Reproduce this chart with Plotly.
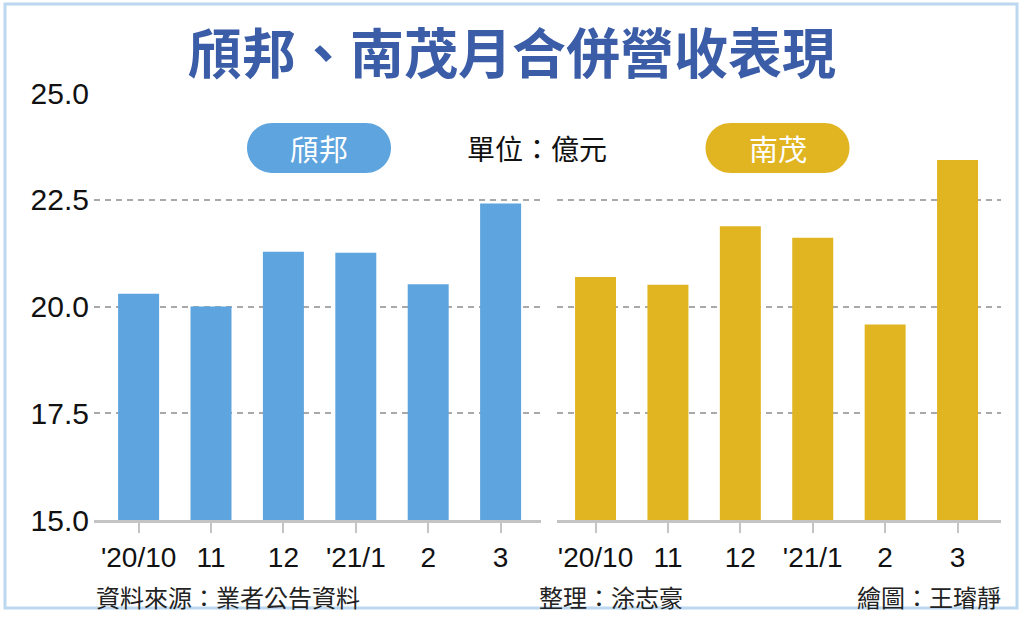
import plotly.graph_objects as go

months = ["'20/10", "11", "12", "'21/1", "2", "3"]
chipbond = [20.30, 20.00, 21.28, 21.26, 20.52, 22.41]
chipmos = [20.69, 20.51, 21.88, 21.61, 19.58, 23.43]
y_ticks = [15.0, 17.5, 20.0, 22.5, 25.0]
y_tick_text = ["15.0", "17.5", "20.0", "22.5", "25.0"]

W, H = 1024, 618
BLUE = "#5ea4de"
GOLD = "#e1b521"
TITLE_BLUE = "#3b5ca6"
GRID = "#a9a9a9"
AXIS = "#c4c4c4"
CJK = "Noto Sans CJK TC"
LAT = "Liberation Sans, Arial, sans-serif"

def px(x):
    return x / W

def py(y):
    return 1 - y / H

fig = go.Figure()
fig.add_trace(go.Bar(x=months, y=chipbond, marker=dict(color=BLUE, line=dict(width=0)),
                     width=0.566, xaxis="x", yaxis="y", showlegend=False))
fig.add_trace(go.Bar(x=months, y=chipmos, marker=dict(color=GOLD, line=dict(width=0)),
                     width=0.566, xaxis="x2", yaxis="y2", showlegend=False))

xcommon = dict(type="category", showgrid=False, zeroline=False, showline=True,
               linecolor=AXIS, linewidth=3, ticks="outside", ticklen=10, tickwidth=2,
               tickcolor=AXIS, tickfont=dict(family=LAT, size=28, color="#111"),
               ticklabelstandoff=0, fixedrange=True, automargin=False)
ycommon = dict(range=[15, 25], tickvals=y_ticks, ticktext=y_tick_text,
               showgrid=True, gridcolor=GRID, gridwidth=1.5, griddash="6px,5px",
               zeroline=False, showline=False, ticks="", domain=[98 / H, 525 / H],
               fixedrange=True, automargin=False)

fig.update_layout(
    width=W, height=H, autosize=False,
    margin=dict(l=0, r=0, t=0, b=0, pad=0, autoexpand=False),
    paper_bgcolor="white", plot_bgcolor="white",
    bargap=0.4,
    xaxis=dict(domain=[94 / W, 541 / W], range=[-0.616, 5.558], anchor="y", **xcommon),
    xaxis2=dict(domain=[556.5 / W, 1001 / W], range=[-0.539, 5.6], anchor="y2", **xcommon),
    yaxis=dict(anchor="x", tickfont=dict(family=LAT, size=30, color="#111"),
               ticklabelstandoff=4, **ycommon),
    yaxis2=dict(anchor="x2", showticklabels=False, matches="y", **ycommon),
)

def pill(cx, cy, w, h, color):
    r = h / 2
    a = w / 2 - r
    k = 0.5523 * r
    path = (f"M {-a},{-r} L {a},{-r} "
            f"C {a + k},{-r} {a + r},{-k} {a + r},0 "
            f"C {a + r},{k} {a + k},{r} {a},{r} "
            f"L {-a},{r} "
            f"C {-a - k},{r} {-a - r},{k} {-a - r},0 "
            f"C {-a - r},{-k} {-a - k},{-r} {-a},{-r} Z")
    return dict(type="path", xref="paper", yref="paper", xsizemode="pixel", ysizemode="pixel",
                xanchor=px(cx), yanchor=py(cy), path=path, fillcolor=color,
                line=dict(width=0), layer="above")

shapes = [
    dict(type="rect", xref="paper", yref="paper", x0=px(5), x1=px(1017), y0=py(608), y1=py(4),
         line=dict(color="#bcd7f0", width=3), fillcolor="rgba(0,0,0,0)", layer="above"),
    pill(319, 148, 144, 50, BLUE),
    pill(777.5, 148, 144, 50, GOLD),
]
fig.update_layout(shapes=shapes)

annotations = [
    dict(text="頎邦、南茂月合併營收表現", x=px(512), y=py(50), xref="paper", yref="paper",
         showarrow=False, xanchor="center", yanchor="middle",
         font=dict(family=CJK, size=54, color=TITLE_BLUE, weight="bold")),
    dict(text="頎邦", x=px(319), y=py(148), xref="paper", yref="paper", showarrow=False,
         xanchor="center", yanchor="middle", font=dict(family=CJK, size=29, color="white")),
    dict(text="南茂", x=px(777.5), y=py(148), xref="paper", yref="paper", showarrow=False,
         xanchor="center", yanchor="middle", font=dict(family=CJK, size=29, color="white")),
    dict(text="單位：億元", x=px(537), y=py(148), xref="paper", yref="paper", showarrow=False,
         xanchor="center", yanchor="middle", font=dict(family=CJK, size=28, color="#111")),
    dict(text="資料來源：業者公告資料", x=px(94), y=py(596), xref="paper", yref="paper",
         showarrow=False, xanchor="left", yanchor="middle",
         font=dict(family=CJK, size=24, color="#222")),
    dict(text="整理：涂志豪", x=px(611), y=py(596), xref="paper", yref="paper",
         showarrow=False, xanchor="center", yanchor="middle",
         font=dict(family=CJK, size=24, color="#222")),
    dict(text="繪圖：王璿靜", x=px(1003), y=py(596), xref="paper", yref="paper",
         showarrow=False, xanchor="right", yanchor="middle",
         font=dict(family=CJK, size=24, color="#222")),
]
fig.update_layout(annotations=annotations)

fig.write_html(
    "out.html",
    config={"displayModeBar": False, "responsive": False},
    post_script="document.body.style.margin='0';document.body.style.padding='0';"
                "document.body.style.overflow='hidden';",
)
